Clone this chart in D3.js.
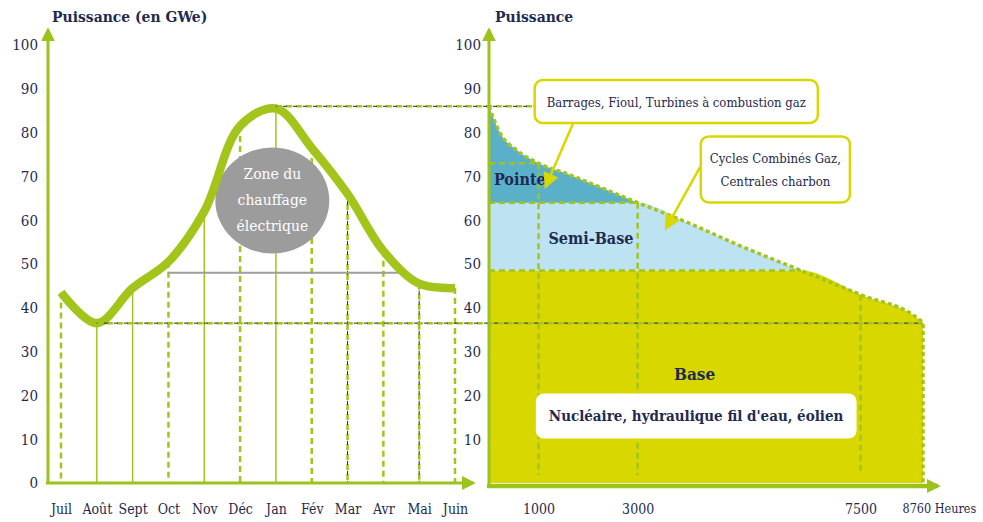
<!DOCTYPE html>
<html>
<head>
<meta charset="utf-8">
<script src="https://cdn.jsdelivr.net/npm/d3@7"></script>
<style>
  body { margin: 0; background: #fff; }
  text { font-family: "DejaVu Serif Condensed", serif; fill: #1f2a50; }
</style>
</head>
<body>
<svg width="983" height="522"></svg>
<script>
// monthly demand (left)
const months = ["Juil", "Août", "Sept", "Oct", "Nov", "Déc", "Jan", "Fév", "Mar", "Avr", "Mai", "Juin"];
const monthlyPower = [43.5, 36.5, 44.5, 50.5, 62, 81.5, 85.5, 76.5, 66, 53, 45.5, 44.5];
const powerTicks = [0, 10, 20, 30, 40, 50, 60, 70, 80, 90, 100];

// load duration curve (right)
const hours = [0, 100, 220, 560, 1000, 1600, 2250, 3000, 4000, 5000, 6300, 7500, 8700, 8760];
const loadPower = [86, 83, 80, 76, 73, 70.5, 67.5, 64, 59.5, 54.5, 48.5, 43, 37.2, 36.5];
const hourTicks = [1000, 3000, 7500, 8760];
const bandNames = ["Base", "Semi-Base", "Pointe"];
const bandLimits = [0, 48.5, 64, 100];

const GREEN = "#a3c51b", AXIS = "#9cc21c", YEL = "#d8d700", NAVY = "#1f2a50";

const svg = d3.select("svg");
const defs = svg.append("defs");
function marker(id, color, size) {
  defs.append("marker").attr("id", id)
    .attr("viewBox", "0 0 10 10").attr("refX", 8).attr("refY", 5)
    .attr("markerWidth", size).attr("markerHeight", size)
    .attr("markerUnits", "userSpaceOnUse").attr("orient", "auto")
    .append("path").attr("d", "M0,0L10,5L0,10Z").attr("fill", color);
}
marker("arrAxis", AXIS, 14);
marker("arrYel", YEL, 16);

// scales
const y = d3.scaleLinear().domain([0, 100]).range([483, 45]);
const xm = d3.scalePoint().domain(months).range([61, 455]);
const xh = d3.scaleLinear().domain([0, 8760]).range([489, 923]);

const monthData = months.map((m, i) => ({m, v: monthlyPower[i]}));
const loadData = hours.map((h, i) => ({h, v: loadPower[i]}));

// ---------- right panel fills ----------
const right = svg.append("g");
const bandColors = [YEL, "#bde3f3", "#5aafc9"];
bandNames.forEach((name, i) => {
  const lo = bandLimits[i], hi = bandLimits[i + 1];
  const pts = loadData.filter(d => d.v >= lo);
  right.append("path")
    .datum(pts)
    .attr("fill", bandColors[i])
    .attr("d", d3.area()
      .curve(d3.curveMonotoneX)
      .x(d => xh(d.h))
      .y0(y(lo))
      .y1(d => y(Math.min(d.v, hi))));
});

// dashed guide lines (right)
const dashG = right.append("g").attr("stroke", GREEN).attr("fill", "none")
  .attr("stroke-width", 2.5).attr("stroke-dasharray", "6,4");
const v1000 = loadPower[hours.indexOf(1000)];
const v7500 = loadPower[hours.indexOf(7500)];
dashG.append("line").attr("x1", xh(0)).attr("x2", xh(1000)).attr("y1", y(v1000)).attr("y2", y(v1000));
dashG.append("line").attr("x1", xh(1000)).attr("x2", xh(1000)).attr("y1", y(v1000)).attr("y2", y(0) - 8);
dashG.append("line").attr("x1", xh(0)).attr("x2", xh(3000)).attr("y1", y(bandLimits[2])).attr("y2", y(bandLimits[2]));
dashG.append("line").attr("x1", xh(3000)).attr("x2", xh(3000)).attr("y1", y(bandLimits[2])).attr("y2", y(0) - 8);
dashG.append("line").attr("x1", xh(0)).attr("x2", xh(6300)).attr("y1", y(bandLimits[1])).attr("y2", y(bandLimits[1]));
dashG.append("line").attr("x1", xh(7500)).attr("x2", xh(7500)).attr("y1", y(v7500)).attr("y2", y(0) - 8);

// outline of the duration curve
const last = loadData[loadData.length - 1];
right.append("path")
  .datum(loadData.concat([{h: last.h, v: 0}]))
  .attr("fill", "none").attr("stroke", GREEN).attr("stroke-width", 3.5)
  .attr("stroke-dasharray", "4,3")
  .attr("d", d3.line().curve(d3.curveMonotoneX).x(d => xh(d.h)).y(d => y(d.v)));

// ---------- left panel ----------
const left = svg.append("g");
const gridStyle = ["g", "s", "s", "g", "s", "g", "s", "g", "n", "g", "n", "g"];
monthData.forEach((d, i) => {
  const x = xm(d.m), st = gridStyle[i];
  if (st === "s") {
    left.append("line").attr("x1", x).attr("x2", x).attr("y1", y(d.v)).attr("y2", y(0))
      .attr("stroke", GREEN).attr("stroke-width", 1.5);
  } else {
    left.append("line").attr("x1", x).attr("x2", x).attr("y1", y(d.v)).attr("y2", y(0))
      .attr("stroke", GREEN).attr("stroke-width", 2.5).attr("stroke-dasharray", "6,4");
    if (st === "n")
      left.append("line").attr("x1", x).attr("x2", x).attr("y1", y(d.v)).attr("y2", y(0))
        .attr("stroke", NAVY).attr("stroke-width", 1).attr("stroke-dasharray", "4,6")
        .attr("stroke-dashoffset", 3);
  }
});

// gray reference line
left.append("line")
  .attr("x1", xm("Oct")).attr("x2", (xm("Avr") + xm("Mai")) / 2)
  .attr("y1", y(48)).attr("y2", y(48))
  .attr("stroke", "#9d9d9d").attr("stroke-width", 2);

// long dashed horizontals (min and peak)
function guide(x1, x2, v) {
  svg.append("line").attr("x1", x1).attr("x2", x2).attr("y1", y(v)).attr("y2", y(v))
    .attr("stroke", GREEN).attr("stroke-width", 2.5).attr("stroke-dasharray", "6,4");
  svg.append("line").attr("x1", x1).attr("x2", x2).attr("y1", y(v)).attr("y2", y(v))
    .attr("stroke", NAVY).attr("stroke-width", 1).attr("stroke-dasharray", "4,6")
    .attr("stroke-dashoffset", 3);
}
guide(xm("Août"), xh(8760), d3.min(monthlyPower));
guide(xm("Jan"), xh(900), loadPower[0]);

// ellipse
const ex = xm("Déc") + xm.step() * 0.9, ey = y(64.5);
left.append("ellipse").attr("cx", ex).attr("cy", ey).attr("rx", 57).attr("ry", 53)
  .attr("fill", "#9c9c9d");
["Zone du", "chauffage", "électrique"].forEach((t, i) => {
  left.append("text").attr("x", ex).attr("y", ey - 21 + i * 26)
    .attr("text-anchor", "middle").attr("font-size", 15.5).style("fill", "#fff").text(t);
});

// demand curve
left.append("path")
  .datum(monthData)
  .attr("fill", "none").attr("stroke", GREEN).attr("stroke-width", 8.5)
  .attr("stroke-linejoin", "round")
  .attr("d", d3.line().curve(d3.curveCatmullRom.alpha(0.5)).x(d => xm(d.m)).y(d => y(d.v)));

// ---------- axes ----------
function styleAxis(g, size) {
  g.select(".domain").remove();
  g.selectAll("text").attr("font-size", size).style("fill", NAVY)
    .style("font-family", '"DejaVu Serif Condensed", serif');
}
svg.append("g").attr("transform", "translate(48,0)")
  .call(d3.axisLeft(y).tickValues(powerTicks).tickSize(0).tickPadding(10))
  .call(g => styleAxis(g, 15));
svg.append("g").attr("transform", "translate(489,0)")
  .call(d3.axisLeft(y).tickValues(powerTicks.filter(v => v > 0)).tickSize(0).tickPadding(8))
  .call(g => styleAxis(g, 15));
svg.append("g").attr("transform", `translate(0,${y(0)})`)
  .call(d3.axisBottom(xm).tickSize(0).tickPadding(21))
  .call(g => styleAxis(g, 14));
svg.append("g").attr("transform", `translate(0,${y(0)})`)
  .call(d3.axisBottom(xh).tickValues(hourTicks).tickSize(0).tickPadding(21)
    .tickFormat(d => d === 8760 ? "8760 Heures" : d))
  .call(g => styleAxis(g, 14))
  .call(g => g.selectAll("text").filter(d => d === 8760)
    .attr("text-anchor", "start").attr("x", -21).attr("font-size", 12.5));

// axis lines with arrows
const axisLine = (x1, y1, x2, y2, w) => svg.append("line")
  .attr("x1", x1).attr("y1", y1).attr("x2", x2).attr("y2", y2)
  .attr("stroke", AXIS).attr("stroke-width", w).attr("marker-end", "url(#arrAxis)");
axisLine(48, y(0) + 1, 48, 30, 3);
axisLine(46, y(0), 473, y(0), 3);
axisLine(489, y(0) + 3, 489, 30, 3);
axisLine(487, y(0) + 3, 938, y(0) + 3, 4.5);

// titles
svg.append("text").attr("x", 52).attr("y", 22).attr("font-size", 15.5).attr("font-weight", "bold")
  .text("Puissance (en GWe)");
svg.append("text").attr("x", 495).attr("y", 22).attr("font-size", 15.5).attr("font-weight", "bold")
  .text("Puissance");

// band labels
svg.append("text").attr("x", xh(100)).attr("y", y(68)).attr("font-size", 16).attr("font-weight", "bold").text("Pointe");
svg.append("text").attr("x", xh(1200)).attr("y", y(54.5)).attr("font-size", 16).attr("font-weight", "bold").text("Semi-Base");
svg.append("text").attr("x", xh(4150)).attr("y", y(23.5)).attr("text-anchor", "middle")
  .attr("font-size", 17).attr("font-weight", "bold").text("Base");

// callout boxes
function box(lines, cx, cy, opts) {
  const g = svg.append("g");
  const lh = opts.lh || 0;
  const t = g.append("text").attr("text-anchor", "middle").attr("font-size", opts.size)
    .attr("font-weight", opts.bold ? "bold" : null);
  lines.forEach((l, i) => t.append("tspan").attr("x", cx)
    .attr("y", cy + 5 + (i - (lines.length - 1) / 2) * lh).text(l));
  const bb = t.node().getBBox();
  g.insert("rect", "text")
    .attr("x", bb.x - opts.px).attr("y", cy - opts.h / 2)
    .attr("width", bb.width + 2 * opts.px).attr("height", opts.h)
    .attr("rx", 8).attr("fill", "#fff")
    .attr("stroke", opts.stroke || "none").attr("stroke-width", 2.5);
  return g;
}
function callArrow(h1, v1, h2, v2) {
  svg.append("line").attr("x1", xh(h1)).attr("y1", y(v1)).attr("x2", xh(h2)).attr("y2", y(v2))
    .attr("stroke", YEL).attr("stroke-width", 2.5).attr("marker-end", "url(#arrYel)");
}
callArrow(1700, 82.2, 1150, 67.8);
callArrow(4260, 72.1, 3580, 58.3);
box(["Barrages, Fioul, Turbines à combustion gaz"], xh(3780), y(87.1), {size: 13, px: 12, h: 43, stroke: YEL});
box(["Cycles Combinés Gaz,", "Centrales charbon"], xh(5780), y(71.6), {size: 13, px: 9, h: 66, lh: 23, stroke: YEL});
box(["Nucléaire, hydraulique fil d'eau, éolien"], xh(4180), y(15.3), {size: 15, px: 13, h: 45, bold: true});
</script>
</body>
</html>
